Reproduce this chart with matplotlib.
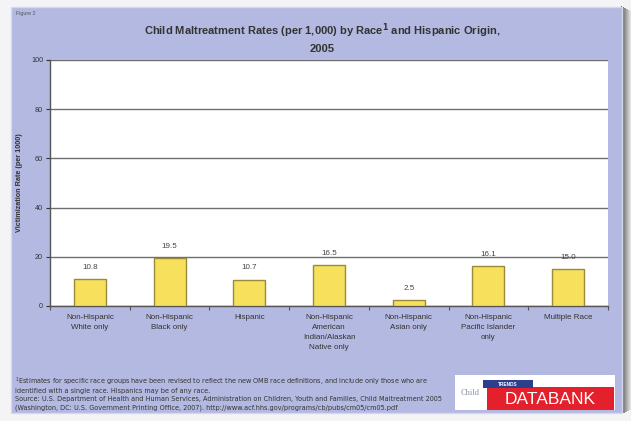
import numpy as np
import matplotlib.pyplot as plt
from matplotlib.patches import Rectangle

plt.rcParams['font.family'] = ['Liberation Sans', 'DejaVu Sans']

groups = ["Non-Hispanic\nWhite only", "Non-Hispanic\nBlack only", "Hispanic",
          "Non-Hispanic\nAmerican\nIndian/Alaskan\nNative only",
          "Non-Hispanic\nAsian only", "Non-Hispanic\nPacific Islander\nonly",
          "Multiple Race"]
rates = [10.8, 19.5, 10.7, 16.5, 2.5, 16.1, 15.0]
yticks = [0, 20, 40, 60, 80, 100]

panel = "#b3b9e0"
W, H = 631, 421

fig = plt.figure(figsize=(6.31, 4.21), dpi=100)
fig.patch.set_facecolor("#f4f4f6")

def box(x0, y0, x1, y1, z=-5, **kw):
    # rectangle in pixel coordinates (origin top-left)
    r = Rectangle((x0 / W, 1 - y1 / H), (x1 - x0) / W, (y1 - y0) / H,
                  transform=fig.transFigure, zorder=z, **kw)
    fig.patches.append(r)
    return r

# drop shadow on the right and lavender slide panel
for i in range(10):
    g = 0.35 + i * 0.06
    box(621 + i, 6 + i * 0.5, 622 + i, 414 - i * 0.5, facecolor=(g, g, g), edgecolor="none")
box(11, 7, 622, 413, facecolor=panel, edgecolor="#d6d9ee", linewidth=1)

ax = fig.add_axes([50 / W, 1 - 306 / H, 558 / W, 246 / H])
ax.set_facecolor("white")
x = np.arange(len(groups))
ax.bar(x, rates, width=0.4, color="#f6e05c", edgecolor="#9a8a3a", linewidth=1, zorder=3)
for xi, v in zip(x, rates):
    ax.annotate(f"{v:.1f}", (xi, v), xytext=(0, 6), textcoords="offset points",
                ha="center", va="bottom", fontsize=5.8, color="#444444")

ax.set_xlim(-0.5, len(groups) - 0.5)
ax.set_ylim(0, 100)
ax.set_yticks(yticks)
ax.yaxis.grid(True, color="#6e6e6e", linewidth=1)
ax.set_axisbelow(True)
ax.tick_params(axis="y", labelsize=5.2, colors="#333333", length=3, width=0.8, pad=2)
ax.set_xticks(x)
ax.set_xticklabels(groups, fontsize=5.8, color="#333333", linespacing=1.55)
ax.tick_params(axis="x", length=0, pad=6)
ax.set_xticks(np.arange(len(groups) + 1) - 0.5, minor=True)
ax.tick_params(axis="x", which="minor", length=3, width=0.8, color="#555555")
for s in ["top", "right"]:
    ax.spines[s].set_visible(False)
for s in ["left", "bottom"]:
    ax.spines[s].set_color("#555555")
    ax.spines[s].set_linewidth(1)
ax.set_ylabel("Victimization Rate (per 1000)", fontsize=5.2, fontweight="bold",
              color="#333333", labelpad=6)

fig.text(16 / W, 1 - 14 / H, "Figure 2", fontsize=3.8, color="#555555", va="center")
fig.text(322 / W, 1 - 31 / H,
         "Child Maltreatment Rates (per 1,000) by Race$^{\\mathbf{1}}$ and Hispanic Origin,",
         fontsize=8, fontweight="bold", color="#333333", ha="center", va="center")
fig.text(322 / W, 1 - 49 / H, "2005", fontsize=8, fontweight="bold", color="#333333",
         ha="center", va="center")

notes = ["$^1$Estimates for specific race groups have been revised to reflect the new OMB race definitions, and include only those who are",
         "identified with a single race. Hispanics may be of any race.",
         "Source: U.S. Department of Health and Human Services, Administration on Children, Youth and Families, Child Maltreatment 2005",
         "(Washington, DC: U.S. Government Printing Office, 2007). http://www.acf.hhs.gov/programs/cb/pubs/cm05/cm05.pdf"]
for k, line in enumerate(notes):
    fig.text(15 / W, 1 - (382 + k * 8.6) / H, line, fontsize=4.7, color="#333333",
             va="center", family="DejaVu Sans")

# Child Trends DataBank logo
box(455, 375, 615, 410, z=2, facecolor="white", edgecolor="none")
box(487, 387, 614, 410, z=3, facecolor="#e3202b", edgecolor="none")
box(483, 380, 533, 388, z=3, facecolor="#2c3f8c", edgecolor="none")
fig.text(508 / W, 1 - 384 / H, "TRENDS", fontsize=3.4, color="white", ha="center",
         va="center", fontweight="bold", zorder=4)
fig.text(461 / W, 1 - 393 / H, "Child", fontsize=6, color="#8a8fa8", va="center",
         family="Liberation Serif", zorder=4)
fig.text(550 / W, 1 - 399 / H, "DATABANK", fontsize=12.5, color="white", ha="center",
         va="center", zorder=4)

fig.savefig("out.png", dpi=100)
